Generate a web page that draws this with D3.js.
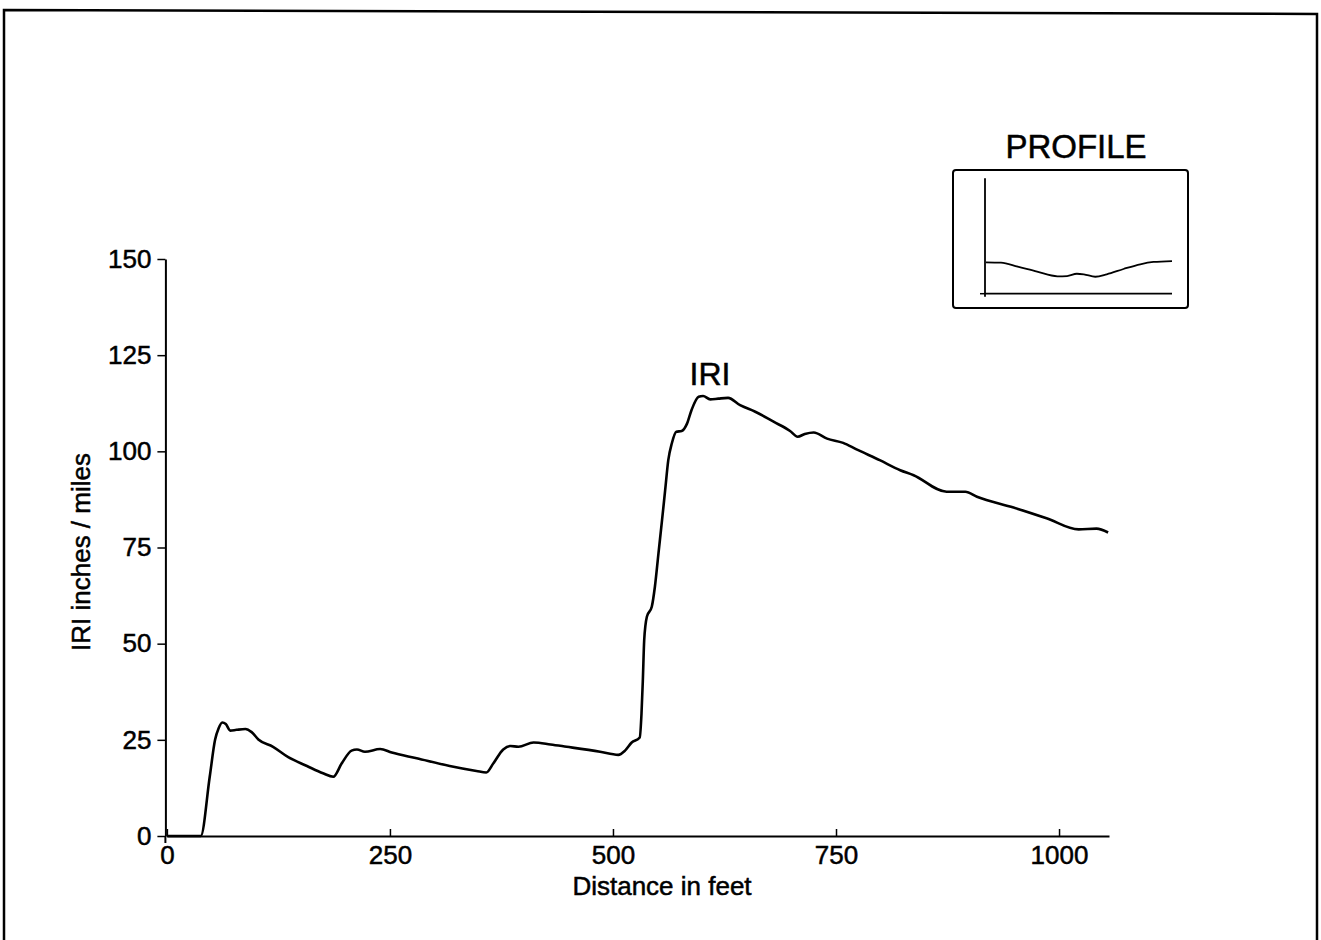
<!DOCTYPE html>
<html>
<head>
<meta charset="utf-8">
<script src="https://cdn.jsdelivr.net/npm/d3@7"></script>
<style>
  html, body { margin: 0; padding: 0; background: #fff; }
  svg { display: block; }
  text { font-family: "Liberation Sans", Arial, Helvetica, sans-serif; fill: #000; stroke: #000; stroke-width: 0.5px; }
</style>
</head>
<body>
<svg id="chart" width="1321" height="940"></svg>
<script>
// IRI (inches / mile) along the section, distance in feet
const distanceFt = [0, 38, 48, 54, 58, 62, 66, 71, 78, 88, 95, 102.5, 119, 136, 157, 175, 186.5,
  196, 207, 213, 222, 239, 252, 280, 317, 347, 358, 366, 377, 385, 394, 411, 430, 448, 485.5,
  506, 513.5, 521, 530, 532, 533.5, 535, 538, 543.5, 547, 551, 555, 558.5, 562, 566, 571, 577,
  583, 588, 596, 601, 609, 618, 629, 642.5, 659.5, 680, 698.5, 707, 715, 725, 740, 758, 773,
  799, 822, 837, 874, 895, 908, 949, 986, 1022, 1042, 1055];
const iriValues = [0, 0, 15.4, 25, 28, 29.5, 29.1, 27.4, 27.6, 27.8, 27.0, 25.1, 23.2, 20.5, 18.2, 16.3, 15.4,
  18.9, 22.2, 22.5, 21.9, 22.6, 21.7, 20.2, 18.2, 16.9, 16.5, 18.9, 22.5, 23.4, 23.2, 24.3, 23.8, 23.2, 21.9,
  21.1, 22.2, 24.3, 25.6, 31.9, 40.6, 50.9, 57, 59.6, 64.8, 73.5, 82.1, 89.9, 97.7, 102.1, 105.1, 105.3,
  107.2, 110.7, 114.2, 114.4, 113.5, 113.7, 113.9, 112, 110.3, 107.7, 105.3, 103.8, 104.5, 104.9, 103.3, 102.2, 100.5,
  97.7, 95.1, 93.8, 89.5, 89.5, 88.2, 85.4, 82.6, 79.7, 79.9, 78.9];

const xTicks = [0, 250, 500, 750, 1000];
const yTicks = [0, 25, 50, 75, 100, 125, 150];

// Small road profile shown in the inset (relative elevation)
const profileDist = [0, 85, 180, 290, 405, 460, 515, 555, 620, 685, 780, 875, 950, 1055];
const profileElev = [2.72, 2.69, 2.34, 1.91, 1.51, 1.53, 1.73, 1.68, 1.47, 1.68, 2.14, 2.55, 2.75, 2.83];

const svg = d3.select("#chart");

// Page frame (open at the bottom)
svg.append("path")
  .attr("d", "M4,940 L4,10 L1317,14 L1317,940")
  .attr("fill", "none").attr("stroke", "#000").attr("stroke-width", 2.5);

const x = d3.scaleLinear().domain([0, 1056]).range([166.9, 1109]);
const y = d3.scaleLinear().domain([0, 150]).range([836, 259]);

// X axis: ticks point up into the plot
const xAxis = svg.append("g").attr("transform", `translate(0,${y(0)})`)
  .call(d3.axisBottom(x).tickValues(xTicks).tickSizeInner(-7).tickSizeOuter(0).tickPadding(10)
    .tickFormat(d3.format("d")));
xAxis.select(".domain").attr("stroke-width", 2);
xAxis.selectAll(".tick line").attr("stroke-width", 1.5);
xAxis.selectAll("text").attr("font-size", 26).attr("dy", "0.71em")
  .attr("font-family", "'Liberation Sans', Arial, sans-serif");

// Y axis: ticks point outward
const yAxis = svg.append("g").attr("transform", `translate(${x(0) - 1.5},0)`)
  .call(d3.axisLeft(y).tickValues(yTicks).tickSizeInner(8).tickSizeOuter(0).tickPadding(6)
    .tickFormat(d3.format("d")));
yAxis.select(".domain").attr("stroke-width", 2);
yAxis.selectAll(".tick line").attr("stroke-width", 1.5);
yAxis.selectAll("text").attr("font-size", 26)
  .attr("font-family", "'Liberation Sans', Arial, sans-serif");
// short extension of the vertical axis below the baseline
svg.append("line").attr("x1", x(0) - 1.5).attr("x2", x(0) - 1.5)
  .attr("y1", y(0)).attr("y2", y(0) + 7).attr("stroke", "#000").attr("stroke-width", 2);

// Axis titles
svg.append("text").attr("x", 662).attr("y", 895).attr("text-anchor", "middle")
  .attr("font-size", 26).text("Distance in feet");
svg.append("text").attr("transform", "translate(90,552) rotate(-90)").attr("text-anchor", "middle")
  .attr("font-size", 26).text("IRI inches / miles");

// IRI curve
const iriData = distanceFt.map((d, i) => [d, iriValues[i]]);
svg.append("path").datum(iriData)
  .attr("fill", "none").attr("stroke", "#000").attr("stroke-width", 2.6)
  .attr("stroke-linejoin", "round")
  .attr("d", d3.line().x(d => x(d[0])).y(d => y(d[1])).curve(d3.curveMonotoneX));

svg.append("text").attr("x", 710).attr("y", 385).attr("text-anchor", "middle")
  .attr("font-size", 32).text("IRI");

// Inset: road profile
const inset = svg.append("g");
inset.append("rect").attr("x", 953).attr("y", 170).attr("width", 235).attr("height", 138)
  .attr("rx", 3).attr("fill", "#fff").attr("stroke", "#000").attr("stroke-width", 2);
inset.append("text").attr("x", 1076).attr("y", 158).attr("text-anchor", "middle")
  .attr("font-size", 33).text("PROFILE");

const px = d3.scaleLinear().domain([0, 1055]).range([986, 1172]);
const py = d3.scaleLinear().domain([0, 10]).range([293.7, 178.3]);
inset.append("line").attr("x1", px(0) - 1).attr("x2", px(0) - 1).attr("y1", py(10)).attr("y2", py(0) + 3)
  .attr("stroke", "#000").attr("stroke-width", 1.8);
inset.append("line").attr("x1", px(0) - 1).attr("x2", px(1055)).attr("y1", py(0)).attr("y2", py(0))
  .attr("stroke", "#000").attr("stroke-width", 1.8);
inset.append("line").attr("x1", px(0) - 6).attr("x2", px(0) - 1).attr("y1", py(0)).attr("y2", py(0))
  .attr("stroke", "#000").attr("stroke-width", 1.5);
inset.append("path").datum(profileDist.map((d, i) => [d, profileElev[i]]))
  .attr("fill", "none").attr("stroke", "#000").attr("stroke-width", 1.8)
  .attr("d", d3.line().x(d => px(d[0])).y(d => py(d[1])).curve(d3.curveMonotoneX));
</script>
</body>
</html>
